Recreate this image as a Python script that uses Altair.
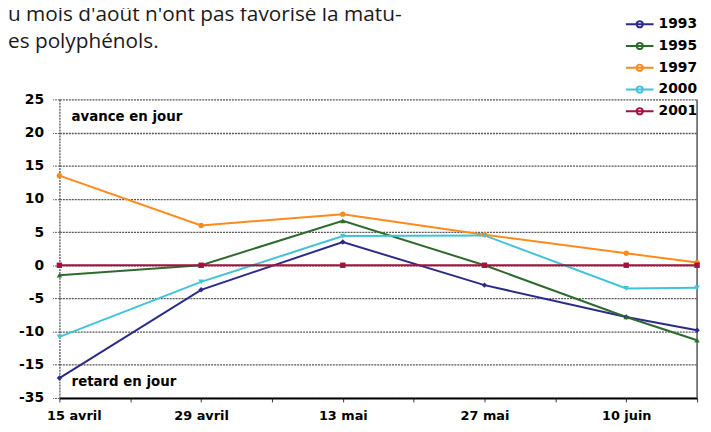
import altair as alt
import pandas as pd

# ---- data ----
annees = ["1993", "1995", "1997", "2000", "2001"]
jours = [0, 14, 28, 42, 56, 63]            # days after 15 avril
dates_ticks = [0, 14, 28, 42, 56]
dates_labels = ["15 avril", "29 avril", "13 mai", "27 mai", "10 juin"]
v1993 = [-17.0, -3.7, 3.5, -3.0, -7.8, -9.8]
v1995 = [-1.5, 0.0, 6.7, 0.0, -7.8, -11.3]
v1997 = [13.5, 6.0, 7.7, 4.6, 1.8, 0.4]
v2000 = [-10.8, -2.5, 4.4, 4.5, -3.5, -3.4]
v2001 = [0.0, 0.0, 0.0, 0.0, 0.0, 0.0]
y_ticks = [-20, -15, -10, -5, 0, 5, 10, 15, 20, 25]
y_labels = ["-35", "-15", "-10", "-5", "0", "5", "10", "15", "20", "25"]
couleurs = ["#2b2b88", "#2e6a2e", "#ff8a1c", "#3ec4d6", "#a3123e"]
formes = ["diamond", "triangle-up", "circle", "triangle-down", "square"]
entete = ["u mois d'août n'ont pas favorisé la matu-", "es polyphénols."]
notes_txt = ["avance en jour", "retard en jour"]
notes_x = [1.2, 1.2]
notes_y = [22.4, -17.6]

series = [v1993, v1995, v1997, v2000, v2001]
rows = []
for an, vals in zip(annees, series):
    for j, v in zip(jours, vals):
        rows.append({"annee": an, "forme": an, "jour": j, "valeur": v})
df = pd.DataFrame(rows)
notes = pd.DataFrame({"x": notes_x, "y": notes_y, "t": notes_txt})

W, H = 645, 302

x_expr = " : ".join(f"datum.value == {d} ? '{l}'" for d, l in zip(dates_ticks, dates_labels)) + " : ''"
y_expr = " : ".join(f"datum.value == {d} ? '{l}'" for d, l in zip(y_ticks, y_labels)) + " : ''"

x_scale = alt.Scale(domain=[0, 63], nice=False, zero=False)
y_scale = alt.Scale(domain=[-20, 25], nice=False, zero=False)

x_axis = alt.Axis(values=list(range(0, 64, 7)), labelExpr=x_expr, title=None, grid=False,
                  domainColor="black", domainWidth=2, tickColor="#333", tickSize=4,
                  labelFlush=True, labelFlushOffset=13, labelPadding=8, labelOverlap=False,
                  labelFont="DejaVu Sans", labelFontWeight="bold", labelFontSize=13,
                  labelColor="black")
y_axis = alt.Axis(values=y_ticks, labelExpr=y_expr, title=None, grid=True,
                  gridColor="#555", gridDash=[2, 1], gridWidth=1.3,
                  domainColor="#555", domainDash=[2, 1], domainWidth=1.3,
                  tickColor="#555", tickSize=7, tickDash=[2, 1], labelPadding=9,
                  labelOverlap=False, labelFlush=False,
                  labelFont="DejaVu Sans", labelFontWeight="bold", labelFontSize=14,
                  labelColor="black")

leg_path = "M-2,0H2M-0.45,0A0.45,0.45,0,1,0,0.45,0A0.45,0.45,0,1,0,-0.45,0Z"
legend = alt.Legend(title=None, orient="none", legendX=579, legendY=-84,
                    symbolType=leg_path, symbolSize=196, symbolStrokeWidth=2,
                    labelOffset=11, rowPadding=6,
                    labelFont="DejaVu Sans", labelFontWeight="bold", labelFontSize=14,
                    labelColor="black")

color_scale = alt.Scale(domain=annees, range=couleurs)

base = alt.Chart(df)
lines = base.mark_line(strokeWidth=2).encode(
    x=alt.X("jour:Q", scale=x_scale, axis=x_axis),
    y=alt.Y("valeur:Q", scale=y_scale, axis=y_axis),
    color=alt.Color("annee:N", scale=color_scale, legend=legend),
    detail="annee:N",
)
points = base.mark_point(filled=True, size=30, opacity=1).encode(
    x=alt.X("jour:Q", scale=x_scale, axis=x_axis),
    y=alt.Y("valeur:Q", scale=y_scale, axis=y_axis),
    color=alt.Color("forme:N", scale=color_scale, legend=None),
    shape=alt.Shape("forme:N", scale=alt.Scale(domain=annees, range=formes), legend=None),
)
frame = alt.Chart(alt.Data(values=[{}])).mark_rule(color="#555", strokeWidth=1.5).encode(
    x=alt.datum(63)
)
annot = alt.Chart(notes).mark_text(align="left", baseline="middle", font="DejaVu Sans",
                                   fontWeight="bold", fontSize=13.5, color="black").encode(
    x=alt.X("x:Q", scale=x_scale, axis=x_axis), y=alt.Y("y:Q", scale=y_scale, axis=y_axis),
    text="t:N"
)
header = alt.Chart(alt.Data(values=[{}])).mark_text(
    text=entete, align="left", baseline="alphabetic", font="Open Sans", fontSize=21,
    lineHeight=27, color="#1a1a1a"
).encode(x=alt.value(-52), y=alt.value(-79))

chart = alt.layer(frame, lines, points, annot, header).resolve_scale(
    color="independent"
).properties(
    width=W, height=H,
    autosize=alt.AutoSizeParams(type="none"),
    padding={"left": 52, "top": 90, "right": 6, "bottom": 30},
).configure_view(stroke=None)

chart.save("out.html", embed_options={"renderer": "svg", "actions": False})
